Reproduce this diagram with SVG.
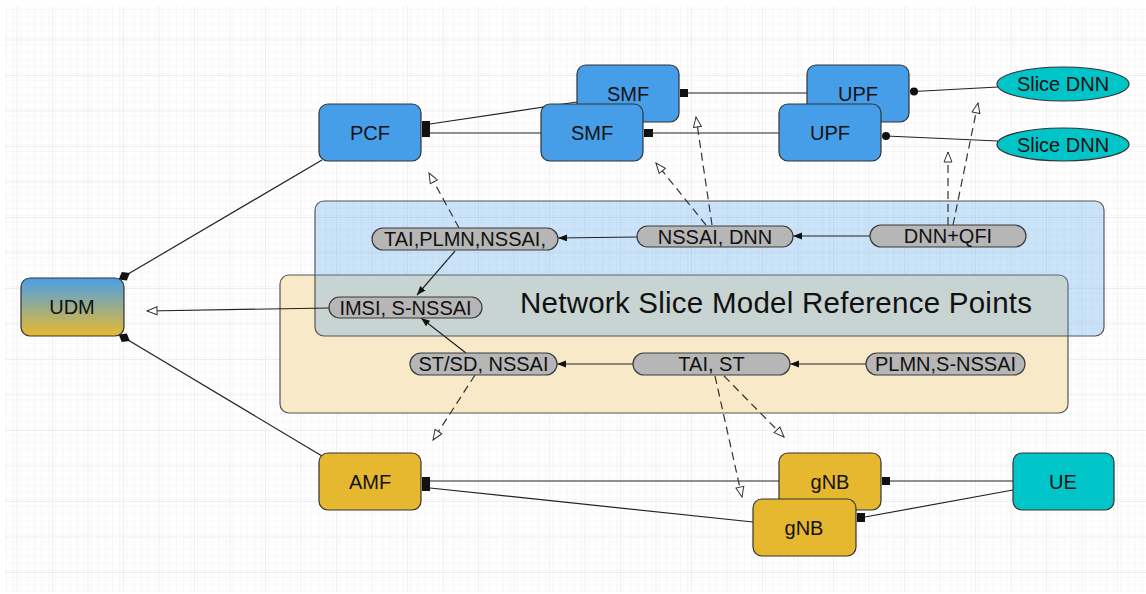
<svg xmlns="http://www.w3.org/2000/svg" width="1146" height="594" viewBox="0 0 1146 594">
  <defs>
    <pattern id="minor" patternUnits="userSpaceOnUse" x="17.5" y="5" width="7.1" height="7.1">
      <path d="M7.1 0 V7.1 M0 7.1 H7.1" fill="none" stroke="#efefef" stroke-width="1"/>
    </pattern>
    <pattern id="major" patternUnits="userSpaceOnUse" x="17.5" y="5" width="35.5" height="35.5">
      <rect width="35.5" height="35.5" fill="url(#minor)"/>
      <path d="M35.5 0 V35.5 M0 35.5 H35.5" fill="none" stroke="#e0e0e0" stroke-width="1"/>
    </pattern>
    <linearGradient id="udmFill" x1="0" y1="0" x2="0" y2="1">
      <stop offset="0" stop-color="#4a9fe8"/>
      <stop offset="1" stop-color="#e8b930"/>
    </linearGradient>
    <marker id="solidHead" markerUnits="userSpaceOnUse" markerWidth="10" markerHeight="8" refX="9" refY="3.5" orient="auto">
      <path d="M0,0 L9,3.5 L0,7 z" fill="#111"/>
    </marker>
    <marker id="openHead" markerUnits="userSpaceOnUse" markerWidth="13" markerHeight="11" refX="11" refY="5" orient="auto">
      <path d="M1,1 L11,5 L1,9 z" fill="#fff" stroke="#333" stroke-width="1"/>
    </marker>
    <marker id="diamond" markerUnits="userSpaceOnUse" markerWidth="14" markerHeight="12" refX="8" refY="5" orient="auto">
      <path d="M0,5 L6.5,0 L13,5 L6.5,10 z" fill="#111"/>
    </marker>
    <style>
      .node { stroke: #333; stroke-width: 1.2; }
      .blue { fill: #479ee8; }
      .gold { fill: #e6b830; }
      .teal { fill: #00c5c8; }
      .pill { fill: #b6b6b6; stroke: #3a3a3a; stroke-width: 1.2; }
      .port { fill: #111; }
      .label { font-family: "Liberation Sans", Arial, sans-serif; font-size: 20px; fill: #111; text-anchor: middle; }
      .title { font-family: "Liberation Sans", Arial, sans-serif; font-size: 29.5px; fill: #111; }
      .link { fill: none; stroke: #222; stroke-width: 1.2; }
      .dash { fill: none; stroke: #333; stroke-width: 1.2; stroke-dasharray: 8 5; marker-end: url(#openHead); }
    </style>
  </defs>

  <!-- background grid -->
  <rect width="1146" height="594" fill="#fff"/>
  <rect x="5" y="6" width="1141" height="586" fill="url(#major)"/>

  <!-- reference point regions -->
  <g id="regions">
    <rect x="280" y="275" width="788" height="138" rx="9" fill="#f8e9c8" stroke="#555" stroke-width="1.2"/>
    <rect x="315" y="201" width="789" height="135" rx="9" fill="#479ee8" fill-opacity="0.28" stroke="#555" stroke-width="1.2"/>
    <text class="title" x="520" y="313" textLength="512" lengthAdjust="spacing">Network Slice Model Reference Points</text>
  </g>

  <!-- connectors -->
  <g id="connectors">
    <!-- control / user plane links -->
    <line class="link" x1="430" y1="124" x2="577" y2="102"/>
    <line class="link" x1="430" y1="133" x2="541" y2="133"/>
    <line class="link" x1="688" y1="93" x2="807" y2="93"/>
    <line class="link" x1="653" y1="133" x2="779" y2="133"/>
    <line class="link" x1="914" y1="91.5" x2="998" y2="87"/>
    <line class="link" x1="886" y1="136" x2="998" y2="141"/>
    <line class="link" x1="322" y1="160" x2="123" y2="277" marker-end="url(#diamond)"/>
    <line class="link" x1="322" y1="456" x2="123" y2="337" marker-end="url(#diamond)"/>
    <line class="link" x1="430" y1="481" x2="779" y2="481"/>
    <line class="link" x1="430" y1="488" x2="753" y2="522"/>
    <line class="link" x1="890" y1="481" x2="1013" y2="481"/>
    <line class="link" x1="865" y1="517" x2="1013" y2="490"/>

    <!-- reference point flow -->
    <line class="link" x1="637" y1="237" x2="558" y2="238" marker-end="url(#solidHead)"/>
    <line class="link" x1="870" y1="236" x2="793" y2="236" marker-end="url(#solidHead)"/>
    <line class="link" x1="455" y1="251" x2="417" y2="295" marker-end="url(#solidHead)"/>
    <line class="link" x1="466" y1="353" x2="421" y2="318" marker-end="url(#solidHead)"/>
    <line class="link" x1="633" y1="364" x2="557" y2="364" marker-end="url(#solidHead)"/>
    <line class="link" x1="866" y1="364" x2="790" y2="364" marker-end="url(#solidHead)"/>
    <line class="link" x1="329" y1="308" x2="147" y2="311" marker-end="url(#openHead)"/>

    <!-- mappings onto network functions -->
    <line class="dash" x1="459" y1="228" x2="429" y2="173"/>
    <line class="dash" x1="706" y1="225" x2="656" y2="163"/>
    <line class="dash" x1="712" y1="225" x2="696" y2="117"/>
    <line class="dash" x1="948" y1="225" x2="948" y2="152"/>
    <line class="dash" x1="953" y1="225" x2="978" y2="103"/>
    <line class="dash" x1="475" y1="375" x2="433" y2="440"/>
    <line class="dash" x1="715" y1="376" x2="742" y2="497"/>
    <line class="dash" x1="724" y1="376" x2="784" y2="437"/>
  </g>

  <!-- network functions -->
  <g id="smf-2">
    <rect class="node blue" x="577" y="65" width="102" height="57" rx="9"/>
    <text class="label" x="628" y="101">SMF</text>
    <rect class="port" x="680" y="89" width="8" height="8"/>
  </g>
  <g id="smf-1">
    <rect class="node blue" x="541" y="104" width="102" height="57" rx="9"/>
    <text class="label" x="592" y="140">SMF</text>
    <rect class="port" x="644" y="129" width="9" height="8"/>
  </g>
  <g id="pcf">
    <rect class="node blue" x="319" y="104" width="102" height="57" rx="9"/>
    <text class="label" x="370" y="140">PCF</text>
    <rect class="port" x="422" y="121" width="8" height="16"/>
  </g>
  <g id="upf-2">
    <rect class="node blue" x="807" y="65" width="102" height="57" rx="9"/>
    <text class="label" x="858" y="101">UPF</text>
    <circle class="port" cx="914" cy="91.5" r="4"/>
  </g>
  <g id="upf-1">
    <rect class="node blue" x="779" y="104" width="102" height="57" rx="9"/>
    <text class="label" x="830" y="140">UPF</text>
    <circle class="port" cx="886" cy="136" r="4"/>
  </g>
  <g id="dnn-1">
    <ellipse class="node teal" cx="1063" cy="84" rx="66" ry="17"/>
    <text class="label" x="1063" y="91">Slice DNN</text>
  </g>
  <g id="dnn-2">
    <ellipse class="node teal" cx="1063" cy="144.5" rx="66" ry="16.5"/>
    <text class="label" x="1063" y="151.5">Slice DNN</text>
  </g>
  <g id="udm">
    <rect class="node" x="21" y="278" width="103" height="58" rx="9" fill="url(#udmFill)"/>
    <text class="label" x="72" y="314">UDM</text>
  </g>
  <g id="amf">
    <rect class="node gold" x="319" y="453" width="102" height="57" rx="9"/>
    <text class="label" x="370" y="489">AMF</text>
    <rect class="port" x="422" y="477" width="8" height="14"/>
  </g>
  <g id="gnb-2">
    <rect class="node gold" x="779" y="453" width="102" height="57" rx="9"/>
    <text class="label" x="830" y="489">gNB</text>
    <rect class="port" x="882" y="477" width="8" height="8"/>
  </g>
  <g id="gnb-1">
    <rect class="node gold" x="753" y="499" width="103" height="57" rx="9"/>
    <text class="label" x="804" y="535">gNB</text>
    <rect class="port" x="857" y="513" width="8" height="9"/>
  </g>
  <g id="ue">
    <rect class="node teal" x="1013" y="453" width="101" height="57" rx="9"/>
    <text class="label" x="1063" y="489">UE</text>
  </g>

  <!-- reference point identifiers -->
  <g id="rp-tai-plmn-nssai">
    <rect class="pill" x="372" y="228" width="186" height="22" rx="11"/>
    <text class="label" x="465" y="246">TAI,PLMN,NSSAI,</text>
  </g>
  <g id="rp-nssai-dnn">
    <rect class="pill" x="637" y="226" width="156" height="21" rx="10.5"/>
    <text class="label" x="715" y="243.5">NSSAI, DNN</text>
  </g>
  <g id="rp-dnn-qfi">
    <rect class="pill" x="870" y="225" width="156" height="22" rx="11"/>
    <text class="label" x="948" y="243">DNN+QFI</text>
  </g>
  <g id="rp-imsi">
    <rect class="pill" x="329" y="297" width="153" height="21" rx="10.5"/>
    <text class="label" x="405.5" y="314.5">IMSI, S-NSSAI</text>
  </g>
  <g id="rp-st-sd">
    <rect class="pill" x="410" y="353" width="147" height="22" rx="11"/>
    <text class="label" x="483.5" y="371">ST/SD, NSSAI</text>
  </g>
  <g id="rp-tai-st">
    <rect class="pill" x="633" y="353" width="157" height="22" rx="11"/>
    <text class="label" x="711.5" y="371">TAI, ST</text>
  </g>
  <g id="rp-plmn">
    <rect class="pill" x="866" y="353" width="159" height="22" rx="11"/>
    <text class="label" x="945.5" y="371">PLMN,S-NSSAI</text>
  </g>
</svg>
